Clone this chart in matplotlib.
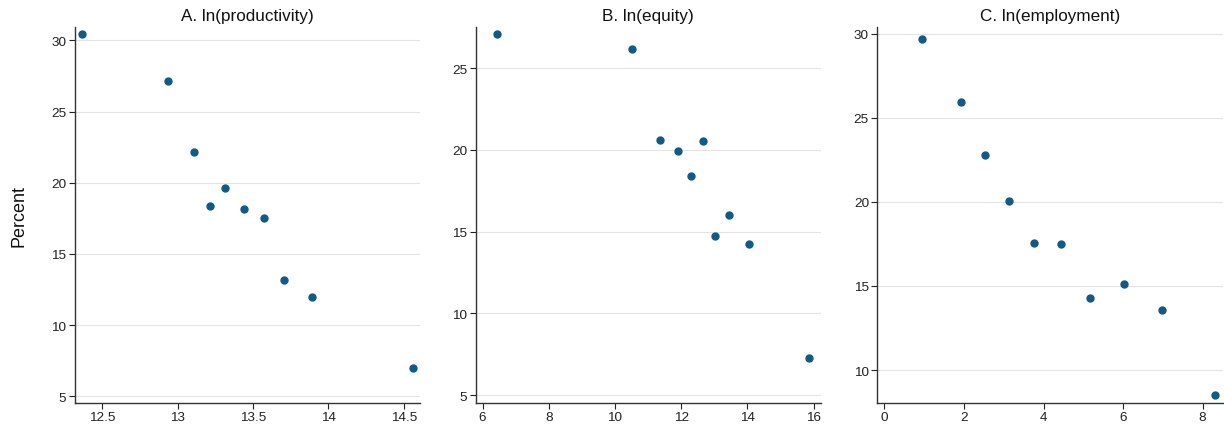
import matplotlib
matplotlib.use("Agg")
import matplotlib.pyplot as plt

plt.rcParams['font.family'] = ['Liberation Sans', 'DejaVu Sans']

# Panel A: ln(productivity)
prod_x = [12.367, 12.938, 13.106, 13.212, 13.314, 13.438, 13.570, 13.707, 13.893, 14.558]
prod_y = [30.42, 27.12, 22.13, 18.36, 19.61, 18.13, 17.52, 13.17, 11.97, 6.97]

# Panel B: ln(equity)
eq_x = [6.45, 10.50, 11.37, 11.91, 12.67, 12.30, 13.44, 13.03, 14.04, 15.86]
eq_y = [27.08, 26.18, 20.62, 19.95, 20.54, 18.38, 16.04, 14.76, 14.23, 7.28]

# Panel C: ln(employment)
emp_x = [0.937, 1.917, 2.536, 3.138, 3.766, 4.444, 5.172, 6.018, 6.98, 8.31]
emp_y = [29.70, 25.94, 22.77, 20.07, 17.57, 17.51, 14.29, 15.12, 13.59, 8.50]

titles = ["A. ln(productivity)", "B. ln(equity)", "C. ln(employment)"]
xticks = [[12.5, 13, 13.5, 14, 14.5], [6, 8, 10, 12, 14, 16], [0, 2, 4, 6, 8]]
xtick_labels = [["12.5", "13", "13.5", "14", "14.5"], ["6", "8", "10", "12", "14", "16"],
                ["0", "2", "4", "6", "8"]]
yticks = [[5, 10, 15, 20, 25, 30], [5, 10, 15, 20, 25], [10, 15, 20, 25, 30]]
xlims = [(12.317, 14.606), (5.79, 16.22), (-0.176, 8.5)]
ylims = [(4.53, 30.93), (4.53, 27.5), (8.04, 30.4)]

series = [(prod_x, prod_y), (eq_x, eq_y), (emp_x, emp_y)]

fig = plt.figure(figsize=(12.24, 4.27), dpi=100)
lefts = [0.061, 0.3886, 0.7168]
width = 0.282
bottom = 0.054
height = 0.880
color = '#115a87'

for i in range(3):
    ax = fig.add_axes([lefts[i], bottom, width, height])
    x, y = series[i]
    ax.plot(x, y, linestyle='none', marker='o', ms=5.0, color=color, zorder=3)
    ax.set_xlim(*xlims[i])
    ax.set_ylim(*ylims[i])
    ax.set_xticks(xticks[i])
    ax.set_xticklabels(xtick_labels[i])
    ax.set_yticks(yticks[i])
    ax.yaxis.grid(True, color='#e4e4e4', linewidth=0.8)
    ax.set_axisbelow(True)
    for s in ['top', 'right']:
        ax.spines[s].set_visible(False)
    for s in ['left', 'bottom']:
        ax.spines[s].set_color('#333333')
        ax.spines[s].set_linewidth(1.0)
    ax.tick_params(axis='both', labelsize=9.7, colors='#222222', length=4, width=0.8,
                   pad=2)
    ax.set_title(titles[i], fontsize=12.3, pad=5, color='#111111')
    if i == 0:
        ax.set_ylabel("Percent", fontsize=13, labelpad=17, color='#111111')

fig.savefig("out.png", dpi=100, facecolor='white')
